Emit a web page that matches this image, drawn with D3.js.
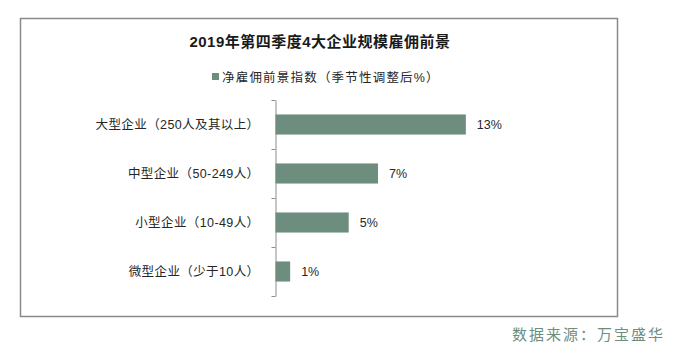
<!DOCTYPE html>
<html>
<head>
<meta charset="utf-8">
<script src="https://cdn.jsdelivr.net/npm/d3@7"></script>
<style>
  body { margin: 0; background: #fff; }
  text { font-family: "Liberation Sans", Arial, "Noto Sans CJK SC", sans-serif; }
</style>
</head>
<body>
<script>
// Employment outlook by company size, Q4 2019
const categories = ['大型企业（250人及其以上）', '中型企业（50-249人）', '小型企业（10-49人）', '微型企业（少于10人）'];
const values = [13, 7, 5, 1];
const valueLabels = ['13%', '7%', '5%', '1%'];

const width = 676, height = 350;
const barColor = '#6d8e7f';
const axisColor = '#8c8c8c';

const svg = d3.select('body').append('svg')
    .attr('width', width)
    .attr('height', height);

// outer frame
svg.append('rect')
    .attr('x', 20.5).attr('y', 18.5)
    .attr('width', 597).attr('height', 298)
    .attr('fill', 'none')
    .attr('stroke', '#8a8a8a')
    .attr('stroke-width', 1.5);

svg.append('text')
    .attr('x', 320).attr('y', 47)
    .attr('text-anchor', 'middle')
    .attr('font-size', 15)
    .attr('font-weight', 'bold')
    .attr('letter-spacing', 0.5)
    .attr('fill', '#1a1a1a')
    .text('2019年第四季度4大企业规模雇佣前景');

// legend
svg.append('rect')
    .attr('x', 212).attr('y', 73)
    .attr('width', 7).attr('height', 7)
    .attr('fill', barColor);
svg.append('text')
    .attr('x', 222).attr('y', 81.5)
    .attr('font-size', 12.5)
    .attr('letter-spacing', 1.2)
    .attr('fill', '#262626')
    .text('净雇佣前景指数（季节性调整后%）');

const x = d3.scaleLinear().domain([0, 14]).range([275.5, 480.5]);
const y = d3.scaleBand().domain(categories).range([100, 296])
    .paddingInner(0.59).paddingOuter(0.295);

const yAxis = d3.axisLeft(y).tickSize(0).tickPadding(16);
const gAxis = svg.append('g')
    .attr('transform', `translate(${x(0)},0)`)
    .call(yAxis);
gAxis.select('.domain').attr('stroke', axisColor);
gAxis.selectAll('text')
    .attr('font-size', 12.5)
    .attr('letter-spacing', 0.4)
    .attr('fill', '#262626')
    .attr('font-family', '"Liberation Sans", Arial, "Noto Sans CJK SC", sans-serif');

// ticks on band boundaries
const bounds = d3.range(categories.length + 1).map(i => y.range()[0] + i * y.step());
gAxis.selectAll('.bound').data(bounds).join('line')
    .attr('class', 'bound')
    .attr('x1', -4).attr('x2', 0)
    .attr('y1', d => Math.round(d) + 0.5).attr('y2', d => Math.round(d) + 0.5)
    .attr('stroke', axisColor);

svg.selectAll('.bar').data(values).join('rect')
    .attr('class', 'bar')
    .attr('x', x(0))
    .attr('y', (d, i) => y(categories[i]))
    .attr('width', d => x(d) - x(0))
    .attr('height', y.bandwidth())
    .attr('fill', barColor);

svg.selectAll('.val').data(values).join('text')
    .attr('class', 'val')
    .attr('x', d => x(d) + 11)
    .attr('y', (d, i) => y(categories[i]) + y.bandwidth() / 2)
    .attr('dy', '0.36em')
    .attr('font-size', 12.5)
    .attr('fill', '#262626')
    .text((d, i) => valueLabels[i]);

svg.append('text')
    .attr('x', 665).attr('y', 340)
    .attr('text-anchor', 'end')
    .attr('font-size', 15)
    .attr('letter-spacing', 2)
    .attr('fill', '#6d8e7f')
    .text('数据来源：万宝盛华');
</script>
</body>
</html>
